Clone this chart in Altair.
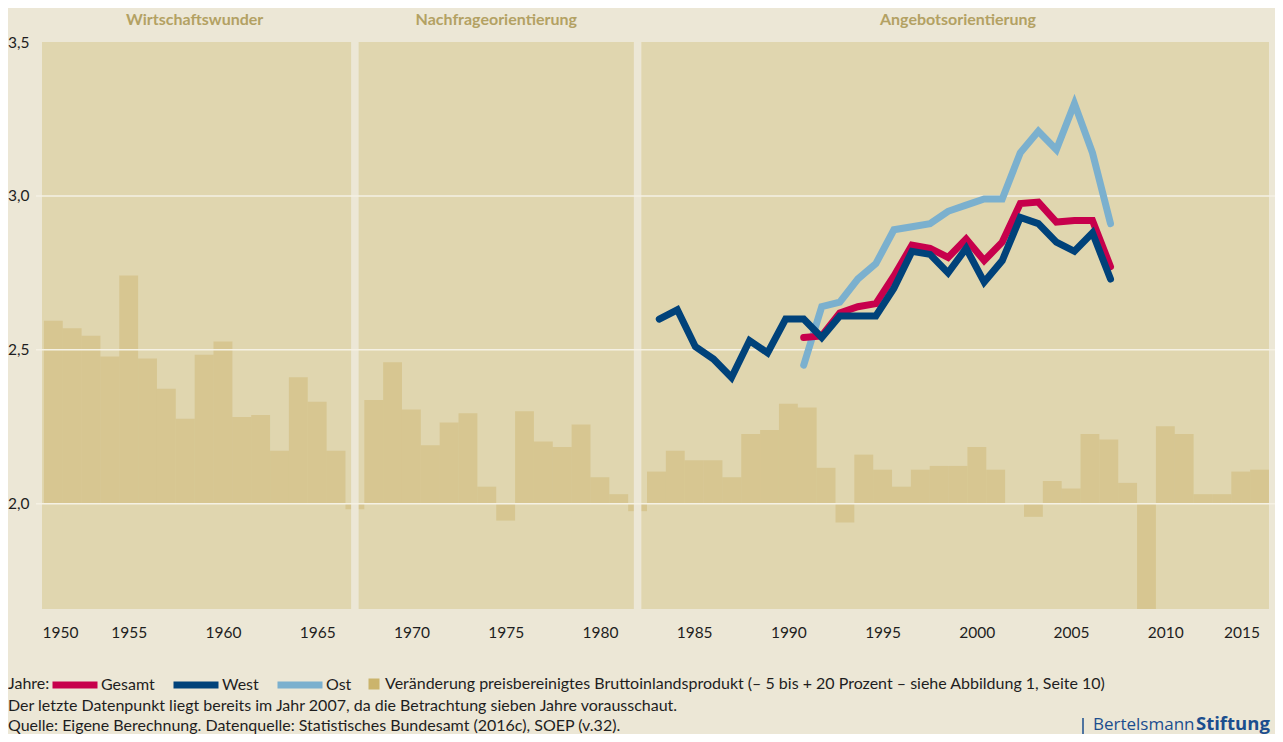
import altair as alt
import pandas as pd

# ---------------- data ----------------
gdp_years = list(range(1951, 2016))
gdp_change = [9.7, 9.3, 8.9, 7.8, 12.1, 7.7, 6.1, 4.5, 7.9, 8.6,
              4.6, 4.7, 2.8, 6.7, 5.4, 2.8, -0.3, 5.5, 7.5, 5.0,
              3.1, 4.3, 4.8, 0.9, -0.9, 4.9, 3.3, 3.0, 4.2, 1.4,
              0.5, -0.4, 1.7, 2.8, 2.3, 2.3, 1.4, 3.7, 3.9, 5.3,
              5.1, 1.9, -1.0, 2.6, 1.8, 0.9, 1.8, 2.0, 2.0, 3.0,
              1.8, 0.0, -0.7, 1.2, 0.8, 3.7, 3.4, 1.1, -5.6, 4.1,
              3.7, 0.5, 0.5, 1.7, 1.8]
gdp_label = ("Veränderung preisbereinigtes Bruttoinlandsprodukt "
             "(– 5 bis + 20 Prozent – siehe Abbildung 1, Seite 10)")

west_years = list(range(1982, 2008))
west_values = [2.60, 2.63, 2.51, 2.47, 2.41, 2.53, 2.49, 2.60, 2.60, 2.54,
               2.61, 2.61, 2.61, 2.70, 2.82, 2.81, 2.75, 2.83, 2.72, 2.79,
               2.93, 2.91, 2.85, 2.82, 2.88, 2.73]
gesamt_years = list(range(1990, 2008))
gesamt_values = [2.54, 2.545, 2.62, 2.64, 2.65, 2.74, 2.84, 2.83, 2.80, 2.86,
                 2.79, 2.85, 2.975, 2.98, 2.915, 2.92, 2.92, 2.77]
ost_years = list(range(1990, 2008))
ost_values = [2.45, 2.64, 2.655, 2.73, 2.78, 2.89, 2.90, 2.91, 2.95, 2.97,
              2.99, 2.99, 3.14, 3.21, 3.15, 3.30, 3.14, 2.91]

series_names = ["Gesamt", "West", "Ost"]
series_colors = ["#C7004C", "#00427A", "#7BB0CE"]

period_names = ["Wirtschaftswunder", "Nachfrageorientierung", "Angebotsorientierung"]
period_start = [1950, 1967, 1982]
period_end = [1967, 1982, 2016]

x_tick_years = [1950, 1955, 1960, 1965, 1970, 1975, 1980, 1985,
                1990, 1995, 2000, 2005, 2010, 2015]
y_ticks = [2.0, 2.5, 3.0, 3.5]
grid_values = [2.0, 2.5, 3.0]

legend_title = "Jahre:"
notes = ["Der letzte Datenpunkt liegt bereits im Jahr 2007, da die Betrachtung sieben Jahre vorausschaut.",
         "Quelle: Eigene Berechnung. Datenquelle: Statistisches Bundesamt (2016c), SOEP (v.32)."]
logo_parts = ["Bertelsmann", "Stiftung"]

# ---------------- layout / style ----------------
W, H = 1227, 567
PAD = {"left": 34, "top": 34, "right": 6, "bottom": 125}
XA_DOMAIN = [1950.4, 2015.5]      # bars, panels, axis
XB_DOMAIN = [1947.8, 2015.78]     # survey lines
Y_LINE_DOMAIN = [1.658, 3.5]
Y_BAR_DOMAIN = [-5.59, 24.49]

BG = "#ECE7D6"
PANEL = "#E0D6AF"
BAR = "#CBB46C"
GRID = "#F5F1E4"
TITLE = "#B3A163"
TEXT = "#1E1E1E"
LOGO = "#1B4E8E"
FONT = "Lato"
FS_AXIS = 15.5
FS = 16

# ---------------- tables ----------------
gdp_df = pd.DataFrame({"year": gdp_years, "change": gdp_change, "label": gdp_label})
lines_df = pd.concat([
    pd.DataFrame({"series": "Ost", "year": ost_years, "value": ost_values}),
    pd.DataFrame({"series": "Gesamt", "year": gesamt_years, "value": gesamt_values}),
    pd.DataFrame({"series": "West", "year": west_years, "value": west_values}),
], ignore_index=True)
periods_df = pd.DataFrame({"name": period_names, "start": period_start, "end": period_end})
bounds_df = pd.DataFrame({"year": period_start[1:]})
grid_df = pd.DataFrame({"value": grid_values})

xA = alt.Scale(domain=XA_DOMAIN, nice=False, zero=False)
xB = alt.Scale(domain=XB_DOMAIN, nice=False, zero=False)
yLine = alt.Scale(domain=Y_LINE_DOMAIN, nice=False, zero=False)
yBar = alt.Scale(domain=Y_BAR_DOMAIN, nice=False, zero=False)

x_axis = alt.Axis(
    values=[max(t, XA_DOMAIN[0]) for t in x_tick_years], format="d",
    labelFlush=10, labelFont=FONT, labelFontSize=FS_AXIS, labelColor=TEXT,
    labelPadding=16, ticks=False, domain=False, grid=False, title=None,
)
y_axis = alt.Axis(
    values=y_ticks, labelExpr="replace(format(datum.value, '.1f'), '.', ',')",
    labelFont=FONT, labelFontSize=FS_AXIS, labelColor=TEXT, labelPadding=13,
    ticks=False, domain=False, grid=False, title=None, orient="left",
)

# ---------------- group A: bars, panel gaps, panel titles ----------------
bars = alt.Chart(gdp_df).transform_calculate(
    x0="datum.year - 0.5", x1="datum.year + 0.5"
).mark_rect(opacity=0.45, clip=True).encode(
    x=alt.X("x0:Q", scale=xA, axis=x_axis),
    x2="x1:Q",
    y=alt.Y("change:Q", scale=yBar, axis=None),
    y2=alt.datum(0),
    fill=alt.Fill("label:N", scale=alt.Scale(domain=[gdp_label], range=[BAR]),
                  legend=alt.Legend(
                      orient="none", legendX=324, legendY=634, title=None,
                      labelFont=FONT, labelFontSize=FS, labelColor=TEXT,
                      labelLimit=1200, labelOffset=3, symbolType="square",
                      symbolSize=121, symbolOpacity=1, symbolStrokeWidth=0,
                      padding=0)),
)

gaps = alt.Chart(bounds_df).mark_rule(color=BG, strokeWidth=7.5).encode(
    x=alt.X("year:Q", scale=xA, axis=x_axis),
    y=alt.value(0), y2=alt.value(H),
)

titles = alt.Chart(periods_df).transform_calculate(
    mid="(datum.start + datum.end) / 2"
).mark_text(font=FONT, fontSize=16, fontWeight="bold", color=TITLE,
            baseline="middle", align="center").encode(
    x=alt.X("mid:Q", scale=xA, axis=x_axis),
    y=alt.value(-22),
    text="name:N",
)

group_a = alt.layer(bars, gaps, titles)

# ---------------- group B: grid lines and survey lines ----------------
grid = alt.Chart(grid_df).mark_rule(color=GRID, strokeWidth=1.5).encode(
    y=alt.Y("value:Q", scale=yLine, axis=y_axis),
    x=alt.value(-6), x2=alt.value(W + 6),
)

lines = alt.Chart(lines_df).mark_line(strokeWidth=7, strokeCap="round").encode(
    x=alt.X("year:Q", scale=xB, axis=None),
    y=alt.Y("value:Q", scale=yLine, axis=y_axis),
    stroke=alt.Stroke("series:N",
                      scale=alt.Scale(domain=series_names, range=series_colors),
                      legend=alt.Legend(
                          orient="none", legendX=7, legendY=617,
                          direction="horizontal", title=None,
                          labelFont=FONT, labelFontSize=FS, labelColor=TEXT,
                          labelOffset=0, symbolType="stroke", symbolSize=2025,
                          symbolStrokeWidth=7, columnPadding=4,
                          gridAlign="each", padding=0)),
)

group_b = alt.layer(grid, lines)

# ---------------- footer ----------------
def footer_text(txt, y, x=-34, **kw):
    return alt.Chart(pd.DataFrame({"t": [txt]})).mark_text(
        font=kw.pop("font", FONT), fontSize=kw.pop("fontSize", FS),
        color=kw.pop("color", TEXT), align=kw.pop("align", "left"),
        baseline=kw.pop("baseline", "middle"), **kw
    ).encode(x=alt.value(x), y=alt.value(y), text="t:N")

legend_label = footer_text(legend_title, 642)
note1 = footer_text(notes[0], 664)
note2 = footer_text(notes[1], 684)

logo_bar = alt.Chart(pd.DataFrame({"t": [logo_parts[0]]})).mark_rule(
    color=LOGO, strokeWidth=1.5
).encode(x=alt.value(1041), y=alt.value(676), y2=alt.value(700))
logo1 = footer_text(logo_parts[0], 688, x=1051, font="Open Sans", fontSize=17,
                    color=LOGO, baseline="alphabetic")
logo2 = footer_text(logo_parts[1], 688, x=1154, font="Open Sans", fontSize=18.5,
                    fontWeight="bold", color=LOGO, baseline="alphabetic")

chart = alt.layer(
    group_a, group_b, legend_label, note1, note2, logo_bar, logo1, logo2
).resolve_scale(
    x="independent", y="independent"
).properties(
    width=W, height=H, padding=PAD,
    autosize=alt.AutoSizeParams(type="none"), background=BG,
).configure_view(stroke=None, fill=PANEL)

chart.save("out.html", embed_options={"renderer": "svg", "actions": False})
